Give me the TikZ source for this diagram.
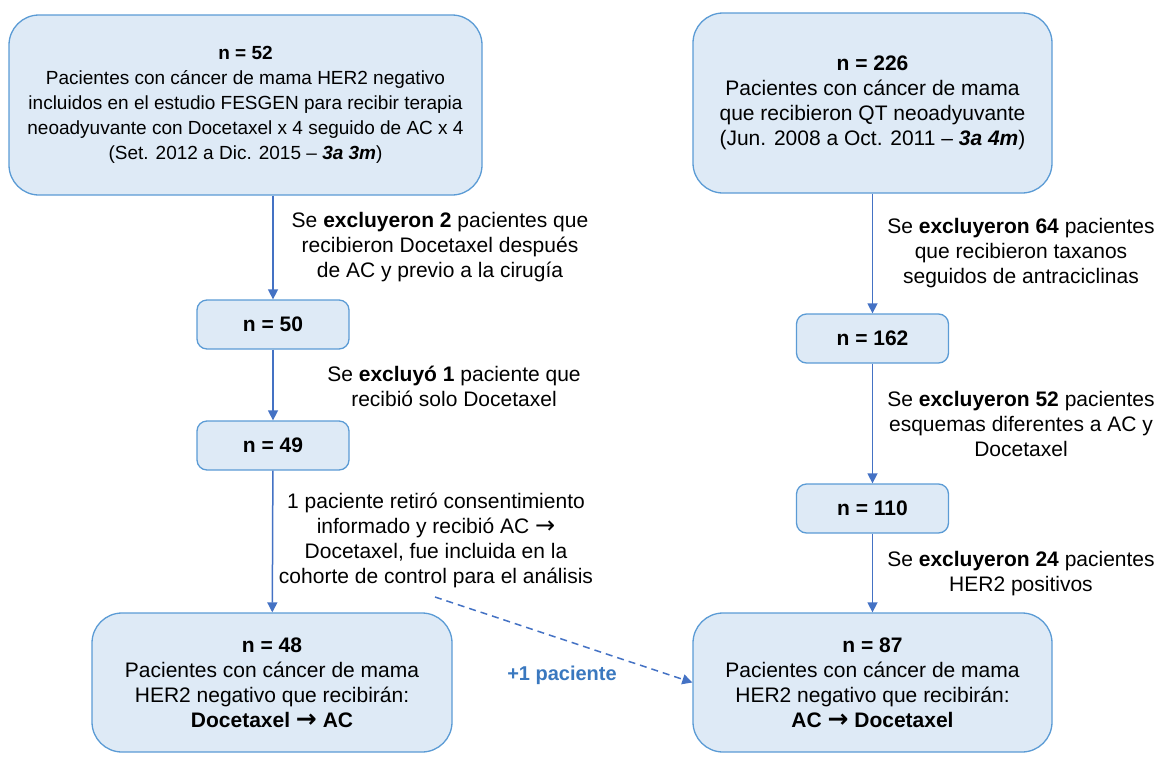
\documentclass[tikz,border=0pt]{standalone}
\usepackage{fontspec}
\setmainfont{Liberation Sans}
\newfontfamily\symfont{DejaVu Sans}
\usetikzlibrary{arrows.meta}
\definecolor{boxfill}{HTML}{DEEAF6}
\definecolor{boxline}{HTML}{5B9BD5}
\definecolor{arrowcol}{HTML}{4472C4}
\definecolor{pluscol}{HTML}{3A78BF}
\newcommand{\rarr}{{\symfont\fontsize{24}{25}\selectfont →}}
\newcommand{\brarr}{{\symfont\bfseries\fontsize{25}{25}\selectfont →}}
\begin{document}
\begin{tikzpicture}[x=1pt,y=-1pt,
  every node/.style={font=\fontsize{21}{25}\selectfont, align=center},
  bigbox/.style={draw=boxline, fill=boxfill, line width=1.3pt, rounded corners=30pt, inner sep=0pt},
  smallbox/.style={draw=boxline, fill=boxfill, line width=1.3pt, rounded corners=10pt, inner sep=0pt,
    minimum width=152pt, minimum height=49pt},
  lbl/.style={inner sep=0pt},
  arr/.style={draw=arrowcol, line width=1.5pt, -{Triangle[length=10pt,width=10pt]}},
  darr/.style={arr, dash pattern=on 7pt off 5pt}
]
\useasboundingbox (0,0) rectangle (1160,780);

% Left column
\node[bigbox, minimum width=473pt, minimum height=180pt, font=\fontsize{19}{25}\selectfont] (A) at (245.5,105)
  {\textbf{n = 52}\\Pacientes con cáncer de mama HER2 negativo\\incluidos en el estudio FESGEN para recibir terapia\\neoadyuvante con Docetaxel x 4 seguido de AC x 4\\(Set. 2012 a Dic. 2015 -- \textbf{\textit{3a 3m}})};
\node[smallbox] (n50) at (273,324.5) {\textbf{n = 50}};
\node[smallbox] (n49) at (273,445.5) {\textbf{n = 49}};
\node[bigbox, minimum width=360pt, minimum height=139pt] (n48) at (272,682.5)
  {\textbf{n = 48}\\Pacientes con cáncer de mama\\HER2 negativo que recibirán:\\\textbf{Docetaxel \brarr{} AC}};

% Right column
\node[bigbox, minimum width=359pt, minimum height=180pt] (B) at (872.5,103)
  {\textbf{n = 226}\\Pacientes con cáncer de mama\\que recibieron QT neoadyuvante\\(Jun. 2008 a Oct. 2011 -- \textbf{\textit{3a 4m}})};
\node[smallbox] (n162) at (872.5,338.5) {\textbf{n = 162}};
\node[smallbox] (n110) at (872.5,508.5) {\textbf{n = 110}};
\node[bigbox, minimum width=359pt, minimum height=139pt] (n87) at (872.5,682.5)
  {\textbf{n = 87}\\Pacientes con cáncer de mama\\HER2 negativo que recibirán:\\\textbf{AC \brarr{} Docetaxel}};

% Labels
\node[lbl] (L1) at (440,247) {Se \textbf{excluyeron 2} pacientes que\\recibieron Docetaxel después\\de AC y previo a la cirugía};
\node[lbl] (L2) at (454,386.5) {Se \textbf{excluyó 1} paciente que\\recibió solo Docetaxel};
\node[lbl] (L3) at (436,540.5) {1 paciente retiró consentimiento\\informado y recibió AC \rarr\\Docetaxel, fue incluida en la\\cohorte de control para el análisis};
\node[lbl] (R1) at (1021,253.5) {Se \textbf{excluyeron 64} pacientes\\que recibieron taxanos\\seguidos de antraciclinas};
\node[lbl] (R2) at (1021,423.5) {Se \textbf{excluyeron 52} pacientes\\esquemas diferentes a AC y\\Docetaxel};
\node[lbl] (R3) at (1021,574) {Se \textbf{excluyeron 24} pacientes\\HER2 positivos};
\node[lbl, text=pluscol, font=\fontsize{20}{25}\selectfont\bfseries] (P) at (562,675) {+1 paciente};

% Connectors
\draw[arr] (A.south -| n50.north) -- (n50.north);
\draw[arr] (n50) -- (n49);
\draw[arr] (n49) -- (n48);
\draw[arr] (B) -- (n162);
\draw[arr] (n162) -- (n110);
\draw[arr] (n110) -- (n87);
\coordinate (dstart) at (435,597);
\draw[darr] (dstart) -- (n87.west);
\end{tikzpicture}
\end{document}
